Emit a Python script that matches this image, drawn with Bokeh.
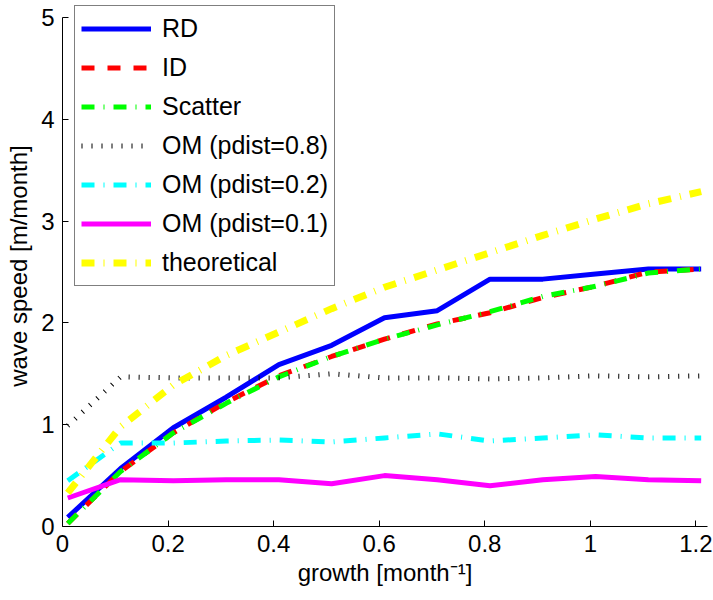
from bokeh.plotting import figure
from bokeh.models import Range1d, FixedTicker, Legend, LegendItem
from bokeh.embed import file_html
from bokeh.resources import INLINE

# ---- data ----
growth = [0.01, 0.11, 0.21, 0.31, 0.41, 0.51, 0.61, 0.71, 0.81, 0.91, 1.01, 1.11, 1.21]
rd = [0.09, 0.57, 0.97, 1.27, 1.59, 1.78, 2.05, 2.12, 2.43, 2.43, 2.48, 2.53, 2.53]
id_ = [0.03, 0.54, 0.92, 1.22, 1.48, 1.67, 1.84, 1.99, 2.10, 2.25, 2.36, 2.50, 2.53]
scatter = [0.03, 0.54, 0.92, 1.21, 1.47, 1.67, 1.84, 1.98, 2.11, 2.26, 2.36, 2.49, 2.53]
om08 = [0.99, 1.47, 1.46, 1.46, 1.46, 1.50, 1.46, 1.46, 1.45, 1.46, 1.48, 1.47, 1.48]
om02 = [0.45, 0.82, 0.82, 0.84, 0.85, 0.83, 0.87, 0.91, 0.84, 0.87, 0.90, 0.87, 0.87]
om01 = [0.28, 0.46, 0.45, 0.46, 0.46, 0.42, 0.50, 0.46, 0.40, 0.46, 0.49, 0.46, 0.45]
theoretical = [0.33, 0.98, 1.39, 1.68, 1.91, 2.14, 2.35, 2.52, 2.69, 2.86, 3.02, 3.17, 3.29]

series_names = ["RD", "ID", "Scatter", "OM (pdist=0.8)", "OM (pdist=0.2)", "OM (pdist=0.1)", "theoretical"]
x_ticks = [0, 0.2, 0.4, 0.6, 0.8, 1, 1.2]
x_tick_labels = ["0", "0.2", "0.4", "0.6", "0.8", "1", "1.2"]
y_ticks = [0, 1, 2, 3, 4, 5]
y_tick_labels = ["0", "1", "2", "3", "4", "5"]

FONT = "Liberation Sans"

# frame: 521 px tall, 0..5 spans 509 px -> top of range slightly above 5
p = figure(width=713, height=600, output_backend="svg", toolbar_location=None,
           x_range=Range1d(0, 1.222), y_range=Range1d(0, 5.118))
p.min_border_left = 62
p.min_border_right = 6
p.min_border_top = 5
p.min_border_bottom = 74
p.outline_line_color = None
p.grid.visible = False
p.background_fill_color = "white"

styles = [
    (rd, dict(line_color="#0000FF", line_width=5)),
    (id_, dict(line_color="#FF0000", line_width=5, line_dash="13 13")),
    (scatter, dict(line_color="#00FF00", line_width=5, line_dash="13 9 1 9")),
    (om08, dict(line_color="#000000", line_width=5, line_dash="1 9")),
    (om02, dict(line_color="#00FFFF", line_width=5, line_dash="13 9 1 9")),
    (om01, dict(line_color="#FF00FF", line_width=5)),
    (theoretical, dict(line_color="#FFFF00", line_width=7, line_dash="13 9 1 9")),
]
items = []
for name, (ys, st) in zip(series_names, styles):
    r = p.line(growth, ys, **st)
    items.append(LegendItem(label=name, renderers=[r]))

legend = Legend(items=items, location=(12, 240))
legend.label_text_font = FONT
legend.label_text_font_size = "25px"
legend.label_text_color = "black"
legend.glyph_width = 70
legend.glyph_height = 33
legend.label_height = 33
legend.label_standoff = 11
legend.spacing = 6
legend.padding = 6
legend.margin = 0
legend.border_line_color = "black"
legend.border_line_width = 1
legend.background_fill_color = "white"
legend.background_fill_alpha = 1
p.add_layout(legend, "center")

for ax in (p.xaxis[0], p.yaxis[0]):
    ax.axis_line_color = "black"
    ax.major_tick_line_color = "black"
    ax.major_tick_in = 6
    ax.major_tick_out = 0
    ax.minor_tick_line_color = None
    ax.major_label_text_font = FONT
    ax.major_label_text_font_size = "24px"
    ax.major_label_text_color = "black"
    ax.axis_label_text_font = FONT
    ax.axis_label_text_font_size = "24px"
    ax.axis_label_text_font_style = "normal"
    ax.axis_label_text_color = "black"

p.xaxis.ticker = FixedTicker(ticks=x_ticks)
p.xaxis.major_label_overrides = dict(zip(x_ticks, x_tick_labels))
p.yaxis.ticker = FixedTicker(ticks=y_ticks)
p.yaxis.major_label_overrides = dict(zip(y_ticks, y_tick_labels))
p.yaxis.bounds = (0, 5)
p.xaxis.axis_label = "growth [month\u207b\u00b9]"
p.yaxis.axis_label = "wave speed [m/month]"
p.xaxis.major_label_standoff = 8
p.yaxis.major_label_standoff = 8
p.xaxis.axis_label_standoff = 4
p.yaxis.axis_label_standoff = 6

open("out.html", "w").write(file_html(p, INLINE))
